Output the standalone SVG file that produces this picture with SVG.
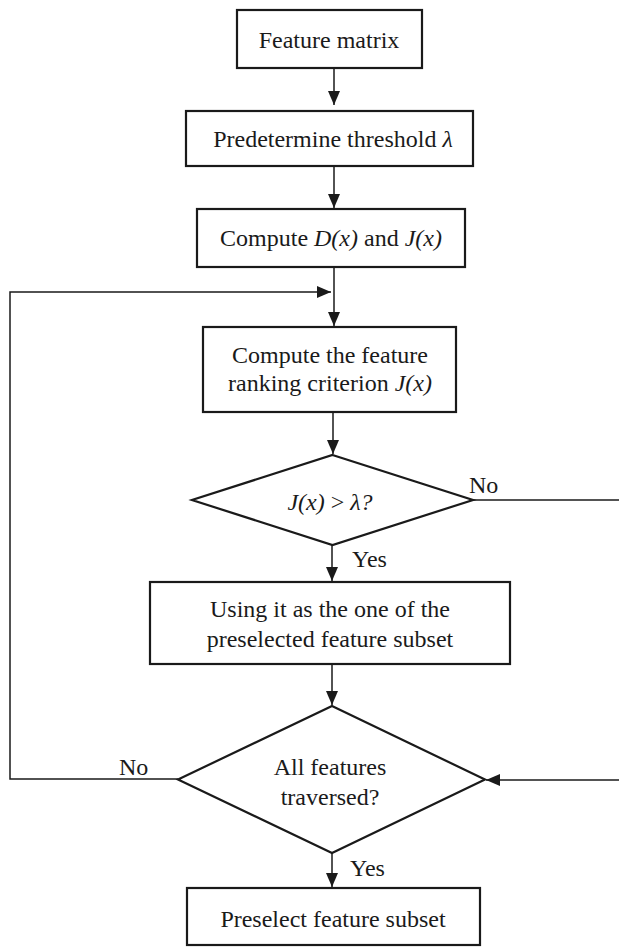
<svg xmlns="http://www.w3.org/2000/svg" width="619" height="948" viewBox="0 0 619 948">
<style>
.box{fill:#fff;stroke:#1a1a1a;stroke-width:2.2}
.dia{fill:#fff;stroke:#1a1a1a;stroke-width:2.2}
.t{font-family:"Liberation Serif","Times New Roman",serif;font-size:24px;fill:#1a1a1a;text-anchor:middle}
.l{font-family:"Liberation Serif","Times New Roman",serif;font-size:24px;fill:#1a1a1a}
.c{fill:none;stroke:#1a1a1a;stroke-width:1.5}
.i{font-style:italic}
</style>
<defs>
<marker id="ah" markerUnits="userSpaceOnUse" markerWidth="14" markerHeight="12" refX="14" refY="6" orient="auto">
<path d="M0,0 L14,6 L0,12 z" fill="#1a1a1a"/>
</marker>
</defs>
<g id="connectors">
<path class="c" d="M334,69 L334,105" marker-end="url(#ah)"/>
<path class="c" d="M334,167 L334,208" marker-end="url(#ah)"/>
<path class="c" d="M334,268 L334,326" marker-end="url(#ah)"/>
<path class="c" d="M178,779 L10,779 L10,292 L331,292" marker-end="url(#ah)"/>
<path class="c" d="M333,413 L333,454" marker-end="url(#ah)"/>
<path class="c" d="M473,500 L619,500"/>
<path class="c" d="M332,545 L332,581" marker-end="url(#ah)"/>
<path class="c" d="M332,665 L332,705" marker-end="url(#ah)"/>
<path class="c" d="M619,780 L486,780" marker-end="url(#ah)"/>
<path class="c" d="M332,853 L332,887" marker-end="url(#ah)"/>
<text class="l" x="469" y="493">No</text>
<text class="l" x="352" y="567">Yes</text>
<text class="l" x="119" y="775">No</text>
<text class="l" x="350" y="876">Yes</text>
</g>
<g id="n1">
<rect class="box" x="237" y="10" width="185" height="58"/>
<text class="t" x="329" y="48">Feature matrix</text>
</g>
<g id="n2">
<rect class="box" x="186" y="111" width="287" height="55"/>
<text class="t" x="333" y="147">Predetermine threshold <tspan class="i">λ</tspan></text>
</g>
<g id="n3">
<rect class="box" x="197" y="209" width="268" height="58"/>
<text class="t" x="331" y="246">Compute <tspan class="i">D(x)</tspan> and <tspan class="i">J(x)</tspan></text>
</g>
<g id="n4">
<rect class="box" x="203" y="327" width="253" height="85"/>
<text class="t" x="330" y="363">Compute the feature</text>
<text class="t" x="330" y="391">ranking criterion <tspan class="i">J(x)</tspan></text>
</g>
<g id="n5">
<polygon class="dia" points="332.5,455 473,500 332.5,545 192,500"/>
<text class="t" x="330" y="510"><tspan class="i">J(x)</tspan> &gt; <tspan class="i">λ?</tspan></text>
</g>
<g id="n6">
<rect class="box" x="150" y="582" width="360" height="82"/>
<text class="t" x="330" y="617">Using it as the one of the</text>
<text class="t" x="330" y="647">preselected feature subset</text>
</g>
<g id="n7">
<polygon class="dia" points="332,706 485,779.5 332,853 178,779.5"/>
<text class="t" x="330" y="775">All features</text>
<text class="t" x="330" y="805">traversed?</text>
</g>
<g id="n8">
<rect class="box" x="187" y="888" width="293" height="57"/>
<text class="t" x="333" y="927">Preselect feature subset</text>
</g>
</svg>
